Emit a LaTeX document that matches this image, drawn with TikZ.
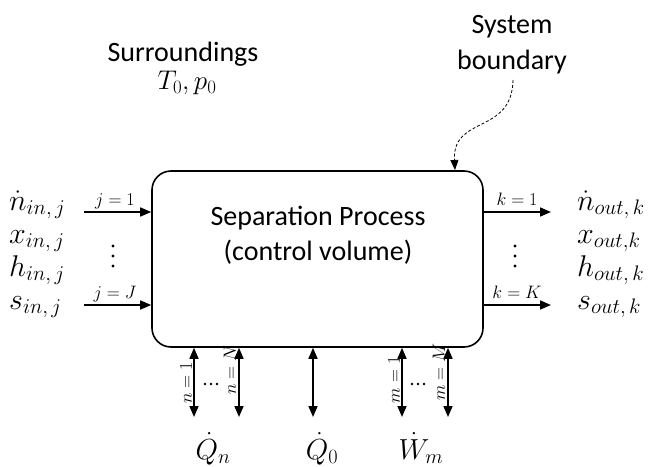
\RequirePackage{fix-cm}
\documentclass[tikz,border=0pt]{standalone}
\usepackage[no-math]{fontspec}
\setmainfont{Carlito}
\usetikzlibrary{arrows.meta}
\begin{document}
\begin{tikzpicture}[x=1pt,y=-1pt,
  txt/.style={font=\fontsize{28}{34}\selectfont, inner sep=0pt, anchor=base},
  mlbl/.style={font=\fontsize{30}{34}\selectfont, inner sep=0pt, anchor=base west},
  blbl/.style={font=\fontsize{29}{32}\selectfont, inner sep=0pt, anchor=base},
  slbl/.style={font=\fontsize{18}{20}\selectfont, inner sep=0pt},
  flow/.style={line width=1.6pt, -{Triangle[length=11pt,width=9pt]}},
  dflow/.style={line width=1.6pt, {Triangle[length=11pt,width=9pt]}-{Triangle[length=11pt,width=9pt]}},
  dotm/.style={fill=black},
]
\useasboundingbox (0,0) rectangle (648,466);

% main box
\node[draw, line width=1.6pt, rounded corners=19pt, minimum width=331pt, minimum height=176pt, inner sep=0pt] (box) at (317.5,259) {};
\node[txt] (sp1) at (318,225) {Separation Process};
\node[txt] (sp2) at (318,260) {(control volume)};

% surroundings
\node[txt] (sur) at (183,61) {Surroundings};
\node[txt, font=\fontsize{27}{30}\selectfont] (tp) at (187,89) {$T_0, p_0$};

% system boundary
\node[txt] (sb1) at (512,33) {System};
\node[txt] (sb2) at (512,69) {boundary};
\coordinate (sbs) at (513,80);
\coordinate (sbe) at (455,170);
\draw[line width=0.8pt, dash pattern=on 3pt off 2pt, -{Triangle[length=10pt,width=8pt]}] (sbs) .. controls (512,135) and (452,115) .. (sbe);

% inlet labels
\node[mlbl] (nin) at (9,210) {$\dot{n}_{in,\,j}$};
\node[mlbl] (xin) at (9,243) {$x_{in,\,j}$};
\node[mlbl] (hin) at (9,276) {$h_{in,\,j}$};
\node[mlbl] (sin) at (9,309) {$s_{in,\,j}$};

% outlet labels
\node[mlbl] (nout) at (577,210) {$\dot{n}_{out,\,k}$};
\node[mlbl] (xout) at (577,243) {$x_{out,k}$};
\node[mlbl] (hout) at (577,276) {$h_{out,\,k}$};
\node[mlbl] (sout) at (577,309) {$s_{out,\,k}$};

% inlet arrows
\coordinate (j1) at (84,212);
\coordinate (jJ) at (84,305);
\draw[flow] (j1) -- (j1 -| box.west);
\draw[flow] (jJ) -- (jJ -| box.west);
\node[slbl, anchor=base] (lj1) at (115,205) {$j=1$};
\node[slbl, anchor=base] (ljJ) at (115,298) {$j=J$};
\fill[dotm] (113,246) circle (1.7);
\fill[dotm] (113,256) circle (1.7);
\fill[dotm] (113,266) circle (1.7);

% outlet arrows
\coordinate (k1) at (551,212);
\coordinate (kK) at (551,305);
\draw[flow] (k1 -| box.east) -- (k1);
\draw[flow] (kK -| box.east) -- (kK);
\node[slbl, anchor=base] (lk1) at (517,205) {$k=1$};
\node[slbl, anchor=base] (lkK) at (517,298) {$k=K$};
\fill[dotm] (515,246) circle (1.7);
\fill[dotm] (515,256) circle (1.7);
\fill[dotm] (515,266) circle (1.7);

% bottom arrows
\coordinate (an1) at (194,417);
\coordinate (anN) at (239,417);
\coordinate (aq0) at (313,417);
\coordinate (am1) at (402,417);
\coordinate (amM) at (448,417);
\draw[dflow] (an1 |- box.south) -- (an1);
\draw[dflow] (anN |- box.south) -- (anN);
\draw[dflow] (aq0 |- box.south) -- (aq0);
\draw[dflow] (am1 |- box.south) -- (am1);
\draw[dflow] (amM |- box.south) -- (amM);

\node[slbl, rotate=90] (ln1) at (186,383) {$n=1$};
\node[slbl, rotate=90] (lnN) at (230,370) {$n=N$};
\node[slbl, rotate=90] (lm1) at (394,380) {$m=1$};
\node[slbl, rotate=90] (lmM) at (439,372) {$m=M$};
\fill[dotm] (205,384) circle (1.3);
\fill[dotm] (211,384) circle (1.3);
\fill[dotm] (217,384) circle (1.3);
\fill[dotm] (412,384) circle (1.3);
\fill[dotm] (418,384) circle (1.3);
\fill[dotm] (424,384) circle (1.3);

% bottom labels
\node[blbl] (qn) at (213,459) {$\dot{Q}_n$};
\node[blbl] (q0) at (322,459) {$\dot{Q}_0$};
\node[blbl] (wm) at (421,459) {$\dot{W}_m$};
\end{tikzpicture}
\end{document}
